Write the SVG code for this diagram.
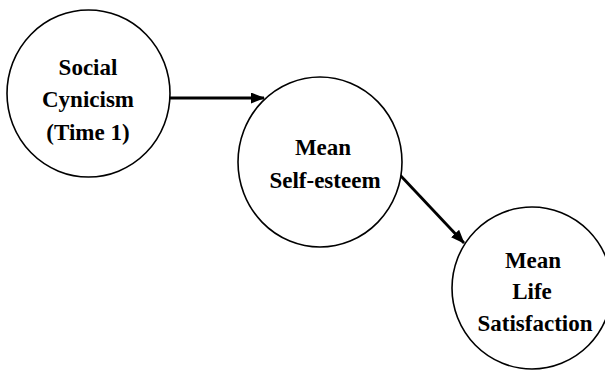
<svg xmlns="http://www.w3.org/2000/svg" width="605" height="371" viewBox="0 0 605 371">
<style>
.node ellipse{fill:#fff;stroke:#000;stroke-width:1.6}
.node text{font-family:'Liberation Serif','Times New Roman',serif;font-weight:bold;font-size:23px;fill:#000;text-anchor:middle}
.edge{stroke:#000;stroke-width:2.8;fill:none}
</style>
<defs>
<marker id="arrow" viewBox="0 0 14 11" refX="13" refY="5.5" markerWidth="14" markerHeight="11" markerUnits="userSpaceOnUse" orient="auto">
<path d="M0,0 L14,5.5 L0,11 Z" fill="#000"/>
</marker>
</defs>
<rect width="605" height="371" fill="#fff"/>
<g id="connectors">
<line class="edge" x1="170" y1="98" x2="264" y2="98" marker-end="url(#arrow)"/>
<line class="edge" x1="400" y1="175" x2="464" y2="243" marker-end="url(#arrow)"/>
</g>
<g id="node-social-cynicism" class="node">
<ellipse cx="88.5" cy="93.5" rx="81.5" ry="83.5"/>
<text x="88" y="75">Social</text>
<text x="88" y="107">Cynicism</text>
<text x="88" y="140">(Time 1)</text>
</g>
<g id="node-self-esteem" class="node">
<ellipse cx="320" cy="162" rx="82" ry="85"/>
<text x="323" y="155">Mean</text>
<text x="325" y="188">Self-esteem</text>
</g>
<g id="node-life-satisfaction" class="node">
<ellipse cx="532" cy="288" rx="80" ry="81"/>
<text x="533" y="268">Mean</text>
<text x="532" y="299">Life</text>
<text x="535" y="331">Satisfaction</text>
</g>
</svg>
